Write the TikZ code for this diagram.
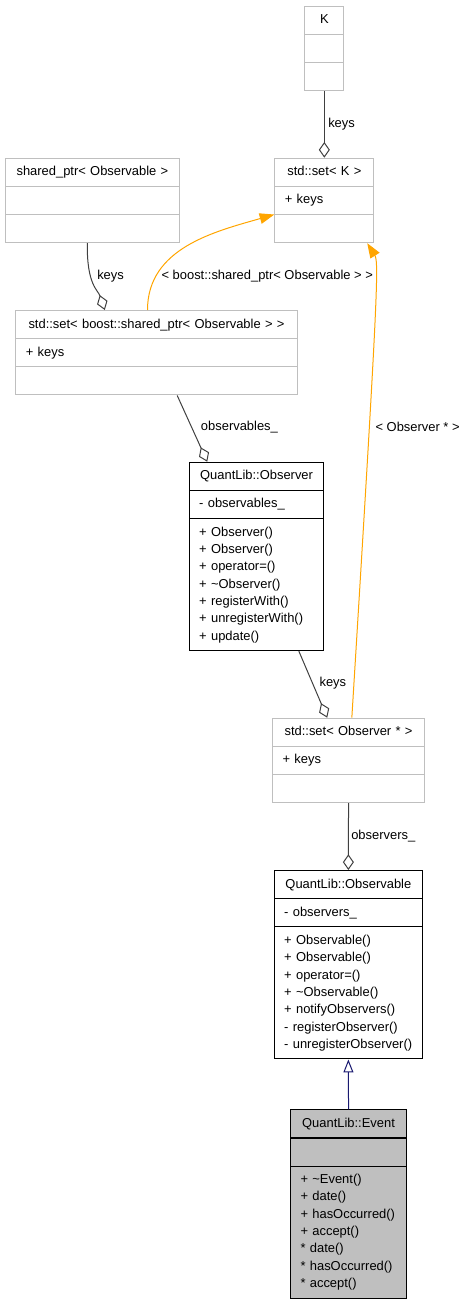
\documentclass[tikz,border=0pt]{standalone}
\usepackage{fontspec}
\setmainfont{Liberation Sans}
\usetikzlibrary{shapes.multipart,arrows.meta,calc}
\definecolor{boxgray}{HTML}{BFBFBF}
\definecolor{edgegray}{HTML}{404040}
\definecolor{inhblue}{HTML}{191970}
\definecolor{evfill}{HTML}{BFBFBF}
\definecolor{instorange}{HTML}{FFA500}
\newcommand{\dxfont}{\fontsize{9.7}{13}\selectfont}
\newcommand{\clsname}[1]{\strut\hfill #1\hfill\null}
\begin{document}
\begin{tikzpicture}[x=0.75pt, y=0.75pt,
    cls/.style={rectangle split, rectangle split parts=3, draw=black, line width=0.8pt,
        inner xsep=7.5pt, inner ysep=3.65pt, anchor=north west, font=\dxfont, align=left},
    tpl/.style={cls, draw=boxgray},
    usage/.style={draw=edgegray, line width=0.75pt, -{Diamond[open, length=11.8pt, width=8.25pt]}},
    inst/.style={draw=instorange, line width=0.75pt, -{Triangle[length=11pt, width=8pt]}},
    inher/.style={draw=inhblue, line width=0.75pt, -{Triangle[open, length=9.75pt, width=7.5pt]}},
    lbl/.style={font=\dxfont, anchor=base west, inner sep=0pt}]

    \useasboundingbox (0,0) rectangle (467,-1304);

    % template boxes
    \node[tpl, text width=14.25pt] (kbox) at (304.3,-5.7) {\clsname{K} \nodepart{two}\strut \nodepart{three}\strut};
    \node[tpl, text width=59.25pt] (setk) at (274.3,-157.7) {\clsname{std::set< K >} \nodepart{two}\strut + keys \nodepart{three}\strut};
    \node[tpl, text width=115.3pt] (sptr) at (5,-157.7) {\clsname{shared\_ptr< Observable >} \nodepart{two}\strut \nodepart{three}\strut};
    \node[tpl, text width=196pt] (setb) at (15.3,-310) {\clsname{std::set< boost::shared\_ptr< Observable > >} \nodepart{two}\strut + keys \nodepart{three}\strut};
    \node[tpl, text width=99pt] (setobs) at (272,-717.7) {\clsname{std::set< Observer * >} \nodepart{two}\strut + keys \nodepart{three}\strut};

    % classes
    \node[cls, text width=86pt] (observer) at (188.7,-461.7) {\clsname{QuantLib::Observer}
        \nodepart{two}\strut - observables\_
        \nodepart{three}\strut + Observer()\\ + Observer()\\ + operator=()\\ + \textasciitilde Observer()\\
        + registerWith()\\ + unregisterWith()\\ + update()\strut};
    \node[cls, text width=96.2pt] (observable) at (273.7,-870) {\clsname{QuantLib::Observable}
        \nodepart{two}\strut - observers\_
        \nodepart{three}\strut + Observable()\\ + Observable()\\ + operator=()\\ + \textasciitilde Observable()\\
        + notifyObservers()\\ - registerObserver()\\ - unregisterObserver()\strut};
    \node[cls, text width=72pt, fill=evfill] (event) at (290,-1109.3) {\clsname{QuantLib::Event}
        \nodepart{two}\strut
        \nodepart{three}\strut + \textasciitilde Event()\\ + date()\\ + hasOccurred()\\ + accept()\\
        {*} date()\\ {*} hasOccurred()\\ {*} accept()\strut};

    % edges
    \draw[usage] (kbox.south) -- (setk.north);
    \node[lbl] (lkeysk) at (328,-127.5) {keys};

    \draw[usage] ($(sptr.south)+(-5.1,0)$) .. controls (86.7,-285) and (98,-290) .. ($(setb.north)+(-51.7,0)$);
    \node[lbl] (lkeyssp) at (97,-279.3) {keys};

    \draw[inst] ($(setb.north)+(-9,0)$) to[out=90, in=196] (setk.two split west);
    \node[lbl] (lboost) at (161.3,-279.3) {< boost::shared\_ptr< Observable > >};

    \draw[inst] ($(setobs.north)+(3.3,0)$) .. controls (377.5,-300) and (379,-262) .. ($(setk.south)+(42.9,0)$);
    \node[lbl] (lobsptr) at (375.3,-431) {< Observer * >};

    \draw[usage] ($(setb.south)+(20.7,0)$) -- ($(observer.north)+(-49.3,0)$);
    \node[lbl] (lobservables) at (200.7,-430.7) {observables\_};

    \draw[usage] ($(observer.south)+(42.3,0)$) -- ($(setobs.north)+(-21.3,0)$);
    \node[lbl] (lkeysobs) at (319.3,-686.7) {keys};

    \draw[usage] (setobs.south) -- (observable.north);
    \node[lbl] (lobservers) at (351,-839.3) {observers\_};

    \draw[inher] (event.north) -- (observable.south);

\end{tikzpicture}
\end{document}
